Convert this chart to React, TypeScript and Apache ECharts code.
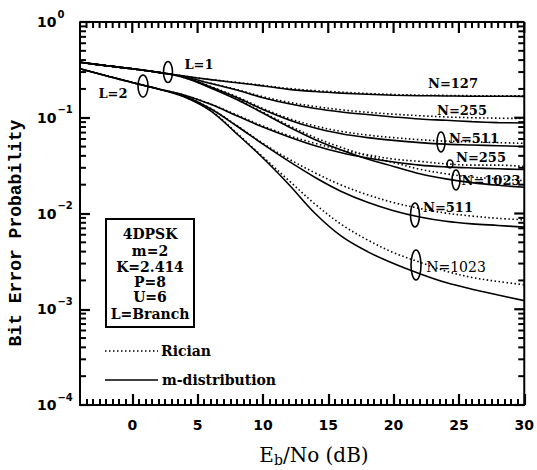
import React, { useEffect, useRef } from 'react';
import * as echarts from 'echarts';

// Eb/No (dB) sample points
const snr = [-4, -2, 0, 2, 4, 6, 8, 10, 12, 14, 16, 18, 20, 22, 24, 26, 28, 30];

// L=1 branch (m = m-distribution, solid; r = Rician, dotted)
const mL1N127 = [0.38, 0.35, 0.325, 0.298, 0.272, 0.25, 0.232, 0.215, 0.198, 0.188, 0.181, 0.176, 0.172, 0.17, 0.169, 0.168, 0.168, 0.167];
const rL1N127 = [0.38, 0.35, 0.325, 0.298, 0.272, 0.251, 0.234, 0.218, 0.202, 0.192, 0.185, 0.179, 0.175, 0.172, 0.171, 0.17, 0.17, 0.17];
const mL1N255 = [0.38, 0.35, 0.325, 0.298, 0.268, 0.228, 0.195, 0.162, 0.14, 0.125, 0.115, 0.108, 0.102, 0.097, 0.094, 0.091, 0.089, 0.088];
const rL1N255 = [0.38, 0.35, 0.325, 0.298, 0.268, 0.229, 0.197, 0.166, 0.145, 0.131, 0.121, 0.114, 0.109, 0.105, 0.102, 0.1, 0.099, 0.098];
const mL1N511 = [0.38, 0.35, 0.325, 0.298, 0.265, 0.21, 0.163, 0.122, 0.095, 0.078, 0.068, 0.062, 0.058, 0.055, 0.053, 0.052, 0.051, 0.05];
const rL1N511 = [0.38, 0.35, 0.325, 0.298, 0.265, 0.212, 0.166, 0.125, 0.098, 0.082, 0.072, 0.066, 0.062, 0.059, 0.057, 0.056, 0.055, 0.054];
const mL1N1023 = [0.38, 0.35, 0.325, 0.298, 0.262, 0.205, 0.155, 0.112, 0.08, 0.059, 0.046, 0.037, 0.031, 0.026, 0.023, 0.021, 0.0197, 0.0188];
const rL1N1023 = [0.38, 0.35, 0.325, 0.298, 0.262, 0.206, 0.157, 0.114, 0.083, 0.062, 0.049, 0.04, 0.034, 0.029, 0.026, 0.024, 0.023, 0.022];
// L=2 branch
const mL2N255 = [0.325, 0.275, 0.233, 0.2, 0.172, 0.138, 0.105, 0.08, 0.063, 0.051, 0.043, 0.038, 0.0345, 0.032, 0.0307, 0.0299, 0.0293, 0.0288];
const rL2N255 = [0.325, 0.275, 0.233, 0.2, 0.172, 0.139, 0.107, 0.082, 0.065, 0.054, 0.046, 0.041, 0.037, 0.035, 0.033, 0.032, 0.032, 0.031];
const mL2N511 = [0.325, 0.275, 0.233, 0.2, 0.168, 0.124, 0.082, 0.053, 0.035, 0.0238, 0.017, 0.0131, 0.0107, 0.0092, 0.0083, 0.0078, 0.0075, 0.0072];
const rL2N511 = [0.325, 0.275, 0.233, 0.2, 0.168, 0.125, 0.083, 0.054, 0.037, 0.0265, 0.0198, 0.0157, 0.013, 0.0113, 0.0101, 0.0094, 0.0089, 0.0086];
const mL2N1023 = [0.325, 0.275, 0.233, 0.2, 0.165, 0.118, 0.068, 0.038, 0.02, 0.01, 0.0058, 0.004, 0.003, 0.00235, 0.0019, 0.00162, 0.00141, 0.00123];
const rL2N1023 = [0.325, 0.275, 0.233, 0.2, 0.165, 0.119, 0.069, 0.039, 0.022, 0.0125, 0.0077, 0.0053, 0.0039, 0.0031, 0.0025, 0.00215, 0.00195, 0.0018];

const curves = [
  { name: 'L=1 N=127', m: mL1N127, r: rL1N127 },
  { name: 'L=1 N=255', m: mL1N255, r: rL1N255 },
  { name: 'L=1 N=511', m: mL1N511, r: rL1N511 },
  { name: 'L=1 N=1023', m: mL1N1023, r: rL1N1023 },
  { name: 'L=2 N=255', m: mL2N255, r: rL2N255 },
  { name: 'L=2 N=511', m: mL2N511, r: rL2N511 },
  { name: 'L=2 N=1023', m: mL2N1023, r: rL2N1023 },
];

const xMin = -4;
const xMax = 30;
const xMinorStep = 0.5;
const xMajor = [0, 5, 10, 15, 20, 25, 30];
const yMin = 1e-4;
const yMax = 1;
const yMajor = [1e-4, 1e-3, 1e-2, 1e-1, 1];
const yMinorMult = [2, 3, 4, 5, 6, 7, 8, 9];
const yDecades = [1e-4, 1e-3, 1e-2, 1e-1];

const paramLines = ['4DPSK', 'm=2', 'K=2.414', 'P=8', 'U=6', 'L=Branch'];

const BLACK = '#000';
const TICK = '#000';
const SERIF = 'DejaVu Serif';

export default function App() {
  const ref = useRef<HTMLDivElement>(null);
  useEffect(() => {
    if (!ref.current) return;
    const chart = echarts.init(ref.current, undefined, { renderer: 'svg' });

    const lineSeries: any[] = [];
    curves.forEach((c) => {
      lineSeries.push({
        type: 'line', name: 'Rician',
        data: snr.map((x, i) => [x, c.r[i]]),
        showSymbol: false, smooth: 0.35,
        lineStyle: { color: BLACK, width: 1.6, type: [1.5, 2.5] },
      });
      lineSeries.push({
        type: 'line', name: 'm-distribution',
        data: snr.map((x, i) => [x, c.m[i]]),
        showSymbol: false, smooth: 0.35,
        lineStyle: { color: BLACK, width: 1.6 },
      });
    });

    const txt = (x: number, y: number, text: string, size: number, bold: boolean, align = 'center') => ({
      type: 'text', x, y,
      style: { text, fontFamily: SERIF, fontWeight: bold ? 'bold' : 'normal', fontSize: size, fill: BLACK, align, verticalAlign: 'middle' },
    });
    const ell = (cx: number, cy: number, rx: number, ry: number) => ({
      type: 'ellipse', shape: { cx, cy, rx, ry }, style: { fill: 'transparent', stroke: BLACK, lineWidth: 1.6 },
    });

    const baseGraphic: any[] = [
      {
        type: 'text', x: 16, y: 233, rotation: Math.PI / 2,
        style: { text: 'Bit Error Probability', fontFamily: 'Liberation Mono', fontWeight: 'bold', fontSize: 18, fill: BLACK, align: 'center', verticalAlign: 'middle' },
      },
      {
        type: 'text', x: 314, y: 455,
        style: {
          text: '{a|E}{s|b}{a|/No (dB)}', align: 'center', verticalAlign: 'middle', fill: BLACK,
          rich: {
            a: { fontSize: 20, fontFamily: SERIF, fill: BLACK },
            s: { fontSize: 14, fontFamily: SERIF, fill: BLACK, padding: [10, 0, 0, 0] },
          },
        },
      },
      { type: 'rect', shape: { x: 106, y: 219, width: 88, height: 108 }, style: { fill: 'transparent', stroke: BLACK, lineWidth: 2 } },
      ...paramLines.map((t, i) => txt(150, [234, 251, 267, 282, 297, 314][i], t, 14, true)),
      { type: 'line', shape: { x1: 105, y1: 351, x2: 158, y2: 351 }, style: { stroke: BLACK, lineWidth: 1.6, lineDash: [1.5, 2.5] } },
      txt(161, 351, 'Rician', 14, true, 'left'),
      { type: 'line', shape: { x1: 105, y1: 380, x2: 158, y2: 380 }, style: { stroke: BLACK, lineWidth: 1.6 } },
      txt(162, 380, 'm-distribution', 14, true, 'left'),
      txt(199, 64, 'L=1', 13, true),
      ell(168, 72, 4.5, 10.5),
      txt(113, 93, 'L=2', 13, true),
      ell(143, 86, 5, 11),
      txt(453, 83, 'N=127', 13, true),
      txt(462, 110, 'N=255', 13, true),
      txt(474, 138, 'N=511', 13, true),
      ell(441, 142, 4, 10),
      txt(481, 157, 'N=255', 13, true),
      ell(450, 164, 3, 4),
      txt(491, 180, 'N=1023', 13, true),
      ell(456, 180, 4, 10),
      txt(448, 207, 'N=511', 13, true),
      ell(415, 215, 4.5, 12),
      txt(456, 267, 'N=1023', 14, false),
      ell(416, 265, 5, 15),
    ];

    const axisLineStyle = { color: BLACK, width: 2 };
    const option: any = {
      animation: false,
      backgroundColor: '#fff',
      grid: { left: 80, top: 22, width: 449, height: 383 },
      xAxis: [
        {
          type: 'value', position: 'bottom', offset: 0, min: xMin, max: xMax, interval: xMinorStep,
          axisLine: { show: true, onZero: false, lineStyle: axisLineStyle },
          axisTick: { show: true, inside: true, length: 6, lineStyle: { color: TICK, width: 2 } },
          axisLabel: { show: false }, splitLine: { show: false },
        },
        {
          type: 'value', position: 'bottom', offset: 0, min: xMin, max: xMax,
          axisLine: { show: false, onZero: false },
          axisTick: { show: true, inside: true, length: 11, customValues: xMajor, lineStyle: { color: TICK, width: 2.2 } },
          axisLabel: {
            customValues: xMajor, margin: 13,
            color: BLACK, fontFamily: 'DejaVu Sans', fontWeight: 'bold', fontSize: 14,
          },
          splitLine: { show: false },
        },
      ],
      yAxis: [
        {
          type: 'log', logBase: 10, min: yMin, max: yMax,
          axisLine: { show: true, onZero: false, lineStyle: axisLineStyle },
          axisTick: { show: true, inside: true, length: 10, lineStyle: { color: TICK, width: 2.2 } },
          axisLabel: {
            color: BLACK, align: 'left', margin: 43,
            formatter: (v: number) => {
              const e = Math.round(Math.log10(v));
              return `{b|10}{s|${e === 0 ? '0' : '\u2212' + -e}}`;
            },
            rich: {
              b: { fontSize: 14, fontFamily: 'DejaVu Sans', fontWeight: 'bold', color: BLACK },
              s: { fontSize: 10, fontFamily: 'DejaVu Sans', fontWeight: 'bold', color: BLACK, padding: [0, 0, 16, 1] },
            },
          },
          splitLine: { show: false },
        },
      ],
      series: lineSeries,
      graphic: baseGraphic,
    };

    chart.setOption(option);

    // Frame and remaining tick marks, placed through the chart's own scales
    const toPx = (x: number, y: number) => chart.convertToPixel({ xAxisIndex: 0, yAxisIndex: 0 }, [x, y]) as number[];
    const seg = (x1: number, y1: number, x2: number, y2: number, w: number, c: string) => ({
      type: 'line', shape: { x1, y1, x2, y2 }, style: { stroke: c, lineWidth: w },
    });
    const bl = toPx(xMin, yMin);
    const tr = toPx(xMax, yMax);
    const leftX = bl[0], bottomY = bl[1], rightX = tr[0], topY = tr[1];
    const ticks: any[] = [];
    ticks.push(seg(leftX, topY, rightX, topY, 2, BLACK));
    ticks.push(seg(rightX, topY, rightX, bottomY, 2, BLACK));
    const xMinor: number[] = [];
    for (let x = xMin; x <= xMax + 1e-9; x += xMinorStep) xMinor.push(x);
    xMinor.forEach((x) => {
      if (xMajor.includes(x) || x === xMin) return;
      const px = toPx(x, yMin)[0];
      ticks.push(seg(px, topY, px, topY + 6, 2, TICK));
    });
    xMajor.forEach((x) => {
      const px = toPx(x, yMin)[0];
      ticks.push(seg(px, topY, px, topY + 11, 2.2, TICK));
    });
    yMajor.forEach((y) => {
      const py = toPx(xMin, y)[1];
      ticks.push(seg(rightX, py, rightX - 10, py, 2.2, TICK));
    });
    yDecades.forEach((d) => {
      yMinorMult.forEach((m) => {
        const py = toPx(xMin, m * d)[1];
        ticks.push(seg(leftX, py, leftX + 6, py, 2, TICK));
        ticks.push(seg(rightX, py, rightX - 6, py, 2, TICK));
      });
    });
    chart.setOption({ graphic: [...baseGraphic, ...ticks] });

    return () => chart.dispose();
  }, []);

  return <div ref={ref} style={{ position: 'fixed', left: 0, top: 0, width: 537, height: 470, background: '#fff' }} />;
}
